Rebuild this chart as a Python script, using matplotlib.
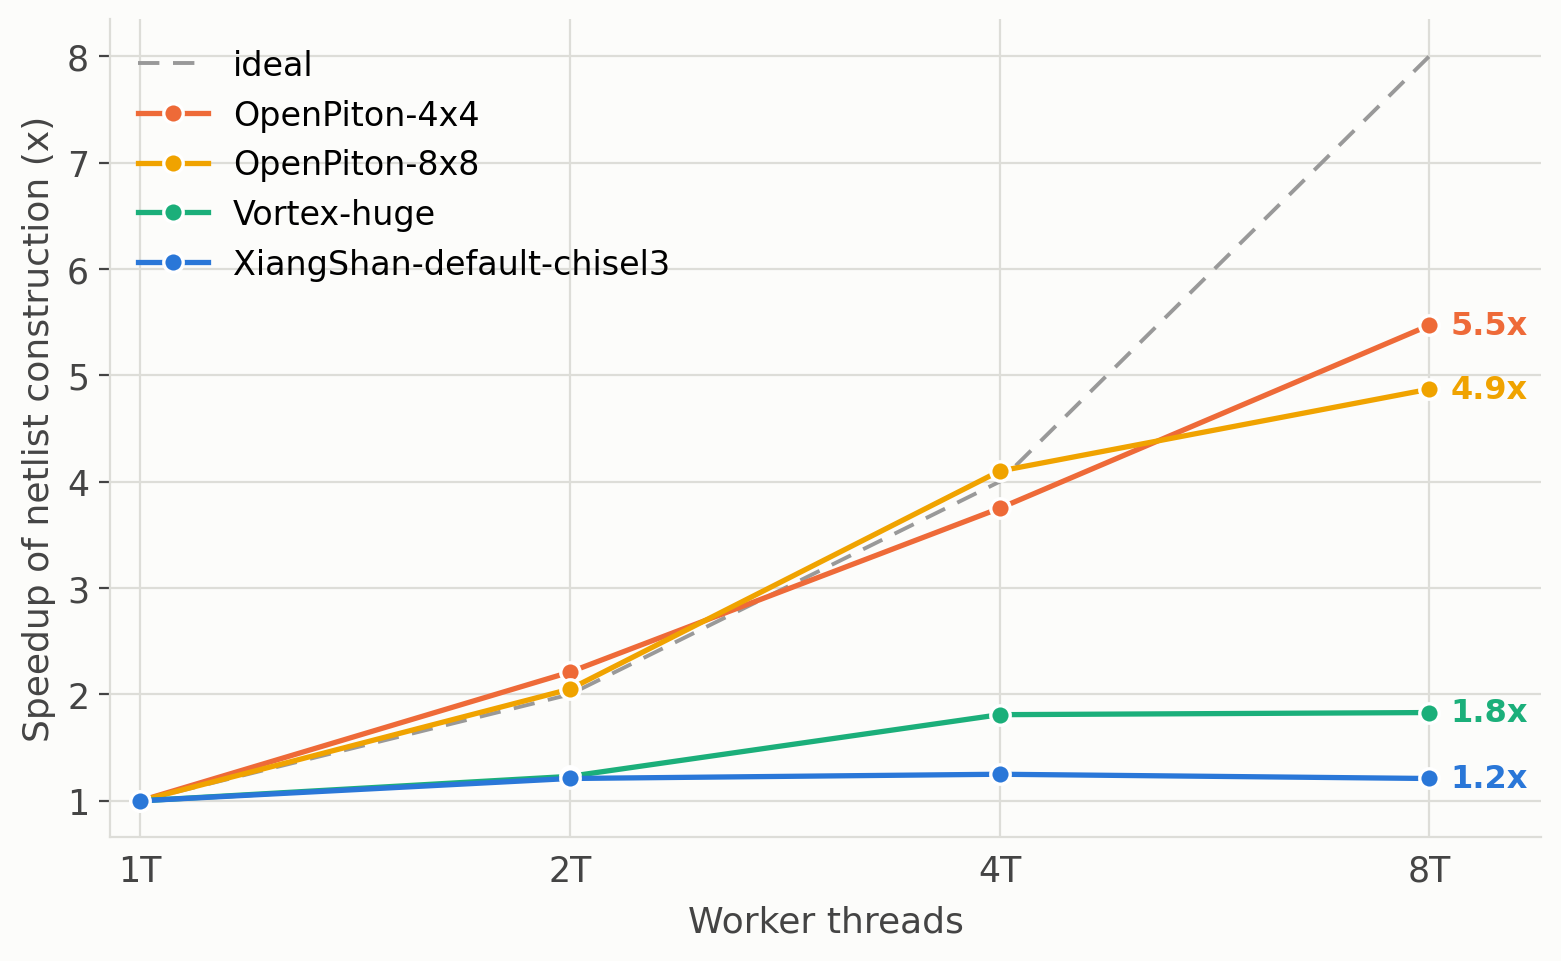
import matplotlib
matplotlib.use("Agg")
import matplotlib.pyplot as plt

threads = ["1T", "2T", "4T", "8T"]
ideal = [1, 2, 4, 8]
series_names = ["OpenPiton-4x4", "OpenPiton-8x8", "Vortex-huge", "XiangShan-default-chisel3"]
op4x4 = [1.0, 2.21, 3.75, 5.47]
op8x8 = [1.0, 2.05, 4.10, 4.87]
vortex = [1.0, 1.23, 1.81, 1.83]
xiangshan = [1.0, 1.21, 1.25, 1.21]
end_labels = ["5.5x", "4.9x", "1.8x", "1.2x"]
colors = ["#EE6A38", "#F0A300", "#1BAF7A", "#2A77D8"]

bg = "#FCFCFA"
fig = plt.figure(figsize=(7.805, 4.81), dpi=200, facecolor=bg)
ax = fig.add_axes([110/1561, 1-838/962, (1541-110)/1561, (838-20)/962])
ax.set_facecolor(bg)

x = list(range(len(threads)))
ax.plot(x, ideal, color="#999999", lw=1.4, ls=(0, (5.5, 3.5)), label="ideal", zorder=2)
for name, vals, c, lab in zip(series_names, [op4x4, op8x8, vortex, xiangshan], colors, end_labels):
    ax.plot(x, vals, color=c, lw=1.9, marker="o", ms=7, mec="white", mew=1.2, label=name, zorder=3)
    ax.annotate(lab, (x[-1], vals[-1]), xytext=(7.5, 0), textcoords="offset points",
                color=c, fontsize=11.5, fontweight="bold", va="center", ha="left")

ax.set_xticks(x)
ax.set_xticklabels(threads)
ax.set_yticks(range(1, 9))
ax.set_xlim(-0.07, 3.26)
ax.set_ylim(0.66, 8.35)
ax.grid(True, color="#DDDDD8", lw=0.8)
ax.set_axisbelow(True)
for s in ["top", "right"]:
    ax.spines[s].set_visible(False)
for s in ["left", "bottom"]:
    ax.spines[s].set_color("#DDDDD8")
    ax.spines[s].set_linewidth(0.8)
ax.tick_params(axis="both", colors="#444444", labelsize=12.5, length=4, width=0.8)
ax.tick_params(axis="x", length=0, pad=6)
ax.set_xlabel("Worker threads", fontsize=13, color="#444444", labelpad=6)
ax.set_ylabel("Speedup of netlist construction (x)", fontsize=13, color="#444444")

leg = ax.legend(loc="upper left", frameon=False, fontsize=12, handlelength=2.1, handletextpad=0.75,
                borderaxespad=0.0, borderpad=0.3, labelspacing=0.5,
                bbox_to_anchor=(18/1431, 1 - 20/818))

fig.savefig("out.png", dpi=200, facecolor=bg)
